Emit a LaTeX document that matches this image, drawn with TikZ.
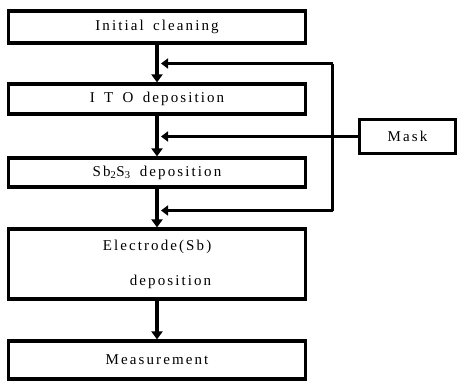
\documentclass[tikz,border=0pt]{standalone}
\usepackage{fontspec}
\setmainfont{Liberation Serif}[LetterSpace=14, WordSpace=1.6]
\usetikzlibrary{arrows.meta, positioning}

\begin{document}
\begin{tikzpicture}[
    x=1pt, y=-1pt,
    step box/.style={rectangle, draw=black, line width=3.2pt, minimum width=297pt, align=center, font=\fontsize{15}{18}\selectfont, inner sep=0pt},
    mask box/.style={rectangle, draw=black, line width=3.2pt, minimum width=96pt, minimum height=34pt, align=center, font=\fontsize{15}{18}\selectfont},
    flow/.style={-{Triangle[length=8pt,width=11pt]}, line width=3.4pt},
    feed/.style={-{Triangle[length=7pt,width=10pt]}, line width=3pt},
    wire/.style={line width=3pt}
]
\useasboundingbox (0,0) rectangle (457,383);

% Process steps
\node[step box, minimum height=32pt] (clean) at (157,27) {Initial cleaning};
\node[step box, minimum height=30pt] (ito) at (157,99) {I T O deposition};
\node[step box, minimum height=29pt] (sbs) at (157,172.5) {Sb\textsubscript{2}S\textsubscript{3} deposition};
\node[step box, minimum height=70pt, align=right] (elec) at (157,264) {Electrode(Sb)\\[17pt]deposition};
\node[step box, minimum height=38pt] (meas) at (157,360) {Measurement};

% Mask
\node[mask box] (mask) at (407.5,136.5) {Mask};

% Main flow
\draw[flow] (clean.south) -- (ito.north);
\draw[flow] (ito.south) -- (sbs.north);
\draw[flow] (sbs.south) -- (elec.north);
\draw[flow] (elec.south) -- (meas.north);

% Mask feed points
\coordinate (j1) at (161,63.5);
\coordinate (j2) at (161,136.5);
\coordinate (j3) at (161,210.5);
\coordinate (r1) at (332.5,63.5);
\coordinate (r2) at (332.5,136.5);
\coordinate (r3) at (332.5,210.5);

\draw[wire] (r1) -- (r3);
\draw[wire] (mask.west) -- (r2);
\draw[feed] (r1) -- (j1);
\draw[feed] (r2) -- (j2);
\draw[feed] (r3) -- (j3);

\end{tikzpicture}
\end{document}
